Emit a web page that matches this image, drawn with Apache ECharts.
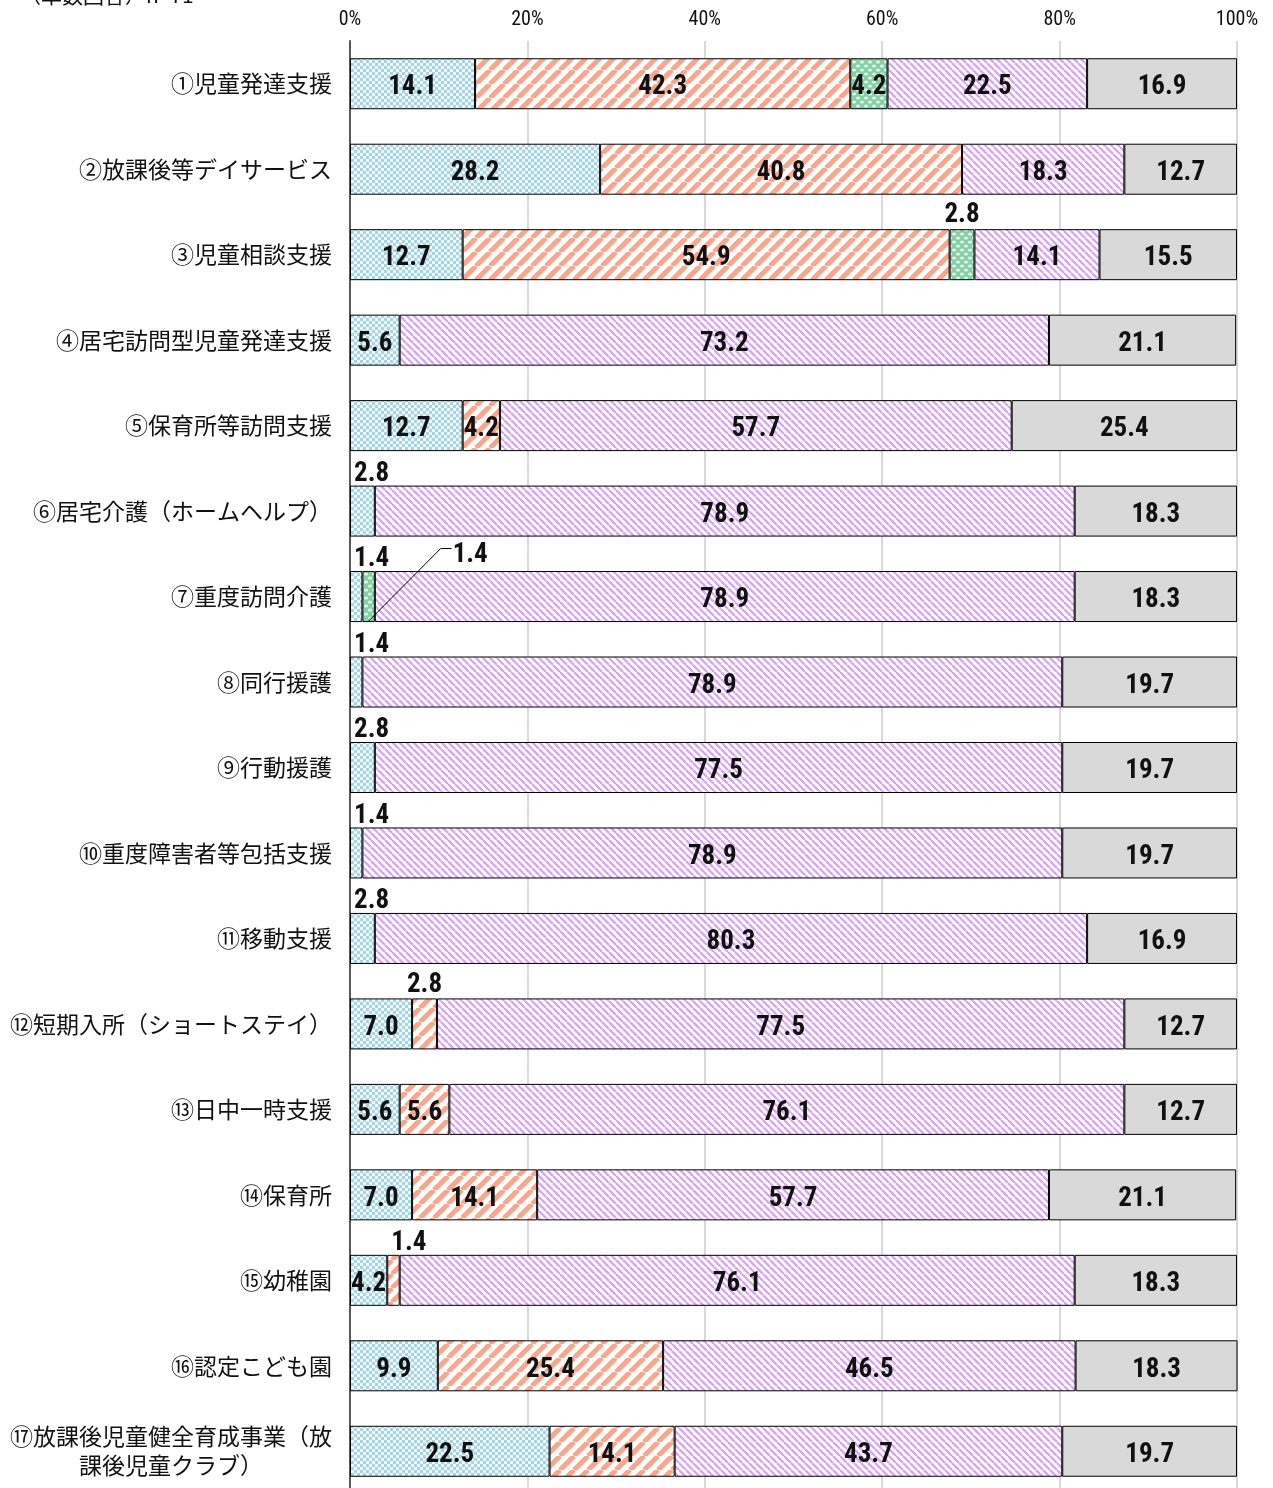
<!DOCTYPE html>
<html lang="ja">
<head>
<meta charset="utf-8">
<title>障害福祉サービス等の利用状況</title>
<script src="https://cdn.jsdelivr.net/npm/echarts@6/dist/echarts.min.js"></script>
<style>
  html, body { margin: 0; padding: 0; background: #ffffff; }
  #chart { width: 1273px; height: 1488px; }
</style>
</head>
<body>
<div id="chart"></div>
<script>
// Service categories (top to bottom)
const categories = [
  '①児童発達支援',
  '②放課後等デイサービス',
  '③児童相談支援',
  '④居宅訪問型児童発達支援',
  '⑤保育所等訪問支援',
  '⑥居宅介護（ホームヘルプ）',
  '⑦重度訪問介護',
  '⑧同行援護',
  '⑨行動援護',
  '⑩重度障害者等包括支援',
  '⑪移動支援',
  '⑫短期入所（ショートステイ）',
  '⑬日中一時支援',
  '⑭保育所',
  '⑮幼稚園',
  '⑯認定こども園',
  '⑰放課後児童健全育成事業（放\n課後児童クラブ）'
];

// Percentages per answer, one array per stacked segment
const answer1 = [14.1, 28.2, 12.7, 5.6, 12.7, 2.8, 1.4, 1.4, 2.8, 1.4, 2.8, 7.0, 5.6, 7.0, 4.2, 9.9, 22.5];
const answer2 = [42.3, 40.8, 54.9, 0, 4.2, 0, 0, 0, 0, 0, 0, 2.8, 5.6, 14.1, 1.4, 25.4, 14.1];
const answer3 = [4.2, 0, 2.8, 0, 0, 0, 1.4, 0, 0, 0, 0, 0, 0, 0, 0, 0, 0];
const answer4 = [22.5, 18.3, 14.1, 73.2, 57.7, 78.9, 78.9, 78.9, 77.5, 78.9, 80.3, 77.5, 76.1, 57.7, 76.1, 46.5, 43.7];
const answer5 = [16.9, 12.7, 15.5, 21.1, 25.4, 18.3, 18.3, 19.7, 19.7, 19.7, 16.9, 12.7, 12.7, 21.1, 18.3, 18.3, 19.7];

// Axis tick values
const xTicks = [0, 20, 40, 60, 80, 100];

const noteText = '（単数回答）n=71';

// ---- fill patterns ----
function tile(w, h, draw) {
  const c = document.createElement('canvas');
  c.width = w; c.height = h;
  const ctx = c.getContext('2d');
  draw(ctx, w, h);
  return { image: c, repeat: 'repeat' };
}

const checkerBlue = tile(6, 6, (ctx, w, h) => {
  ctx.fillStyle = '#eef7fa';
  ctx.fillRect(0, 0, w, h);
  ctx.fillStyle = '#a8d3e1';
  ctx.fillRect(0, 0, 3, 3);
  ctx.fillRect(3, 3, 3, 3);
});

const stripeSalmon = tile(14, 14, (ctx, w, h) => {
  ctx.fillStyle = '#ffffff';
  ctx.fillRect(0, 0, w, h);
  ctx.strokeStyle = '#f9a68c';
  ctx.lineWidth = 5;
  ctx.beginPath();
  for (let k = -1; k <= 1; k++) {
    ctx.moveTo(k * w, h);
    ctx.lineTo(k * w + w, 0);
  }
  ctx.stroke();
});

const dotsGreen = tile(8, 8, (ctx, w, h) => {
  ctx.fillStyle = '#86d0a6';
  ctx.fillRect(0, 0, w, h);
  ctx.fillStyle = '#e6f6ec';
  ctx.beginPath();
  ctx.ellipse(2, 2, 2, 1.6, 0, 0, Math.PI * 2);
  ctx.ellipse(6, 6, 2, 1.6, 0, 0, Math.PI * 2);
  ctx.fill();
});

const stripePurple = tile(7, 7, (ctx, w, h) => {
  ctx.fillStyle = '#ffffff';
  ctx.fillRect(0, 0, w, h);
  ctx.strokeStyle = '#d9a6f4';
  ctx.lineWidth = 2.4;
  ctx.beginPath();
  for (let k = -1; k <= 1; k++) {
    ctx.moveTo(k * w, 0);
    ctx.lineTo(k * w + w, h);
  }
  ctx.stroke();
});

const solidGray = '#d9d9d9';

const fills = [checkerBlue, stripeSalmon, dotsGreen, stripePurple, solidGray];
const seriesData = [answer1, answer2, answer3, answer4, answer5];

const numFont = "'Roboto Condensed', 'Liberation Sans Narrow', sans-serif";
const jpFont = "'Noto Sans CJK JP', 'Noto Sans', sans-serif";
const BAR_WIDTH = 51;

const baseLabel = {
  show: true,
  color: '#111111',
  fontFamily: numFont,
  fontWeight: 'bold',
  fontSize: 27,
  formatter: p => Number(p.value).toFixed(1)
};

// the one segment whose value is pulled out with a leader line
const calloutSeries = 2;
const calloutIndex = 6;

// Narrow segments get their value written above the bar
function labelFor(s, c, v) {
  if (s === calloutSeries && c === calloutIndex) return { show: false };
  if (v >= 3.5) return { position: 'inside', offset: [0, 4] };
  if (s === 0 || v < 2) {
    return { position: [4, 2], align: 'left', verticalAlign: 'bottom' };
  }
  return { position: 'top', distance: 0 };
}

const series = seriesData.map((arr, s) => ({
  name: 'answer' + (s + 1),
  type: 'bar',
  stack: 'total',
  barWidth: BAR_WIDTH,
  itemStyle: { color: fills[s], borderColor: '#000000', borderWidth: 1 },
  label: baseLabel,
  data: arr.map((v, c) => (v ? { value: v, label: labelFor(s, c, v) } : '-'))
}));

// Leader line + value for the callout segment, placed through the axes
let calloutStart = 0;
for (let s = 0; s < calloutSeries; s++) calloutStart += seriesData[s][calloutIndex];
series.push({
  name: 'callout',
  type: 'custom',
  z: 5,
  silent: true,
  encode: { x: 0, y: 2 },
  data: [[calloutStart, seriesData[calloutSeries][calloutIndex], calloutIndex]],
  renderItem: (params, api) => {
    const start = api.value(0);
    const v = api.value(1);
    const cat = api.value(2);
    const c = api.coord([start + v / 2, cat]);
    const bottom = c[1] + BAR_WIDTH / 2 - 1;
    const mx = c[0] + 72;
    const my = c[1] - 48;
    return {
      type: 'group',
      children: [
        {
          type: 'polyline',
          shape: { points: [[c[0], bottom], [mx, my], [mx + 11, my]] },
          style: { stroke: '#000000', lineWidth: 1, fill: null }
        },
        {
          type: 'text',
          x: mx + 12,
          y: c[1] - 41,
          style: {
            text: v.toFixed(1),
            font: 'bold 27px ' + numFont,
            fill: '#111111',
            align: 'left',
            verticalAlign: 'middle'
          }
        }
      ]
    };
  }
});

const chart = echarts.init(document.getElementById('chart'), null, { renderer: 'canvas' });

chart.setOption({
  animation: false,
  backgroundColor: '#ffffff',
  grid: {
    left: 350, right: 36, top: 41, height: 1453,
    containLabel: false,
    outerBoundsMode: 'none'
  },
  xAxis: {
    type: 'value',
    position: 'top',
    min: xTicks[0],
    max: xTicks[xTicks.length - 1],
    interval: xTicks[1] - xTicks[0],
    axisLine: { show: false },
    axisTick: { show: false },
    axisLabel: {
      formatter: '{value}%',
      color: '#111111',
      fontFamily: numFont,
      fontSize: 20,
      margin: 11
    },
    splitLine: { show: true, lineStyle: { color: '#d9d9d9', width: 2 } }
  },
  yAxis: {
    type: 'category',
    inverse: true,
    data: categories,
    axisLine: { show: true, lineStyle: { color: '#595959', width: 2 } },
    axisTick: { show: false },
    axisLabel: {
      color: '#111111',
      fontFamily: jpFont,
      fontSize: 23,
      margin: 18,
      lineHeight: 29,
      formatter: v => {
        const lines = v.split('\n');
        if (lines.length === 1) return v;
        return '{a|' + lines[0] + '}\n{c|' + lines[1] + '}';
      },
      rich: {
        a: { fontFamily: jpFont, fontSize: 23, color: '#111111', lineHeight: 29 },
        c: { fontFamily: jpFont, fontSize: 23, color: '#111111', lineHeight: 29, align: 'center' }
      }
    }
  },
  graphic: [{
    type: 'text',
    left: 20,
    top: -15,
    style: { text: noteText, font: '21px ' + jpFont, fill: '#111111' }
  }],
  series: series
});
</script>
</body>
</html>
